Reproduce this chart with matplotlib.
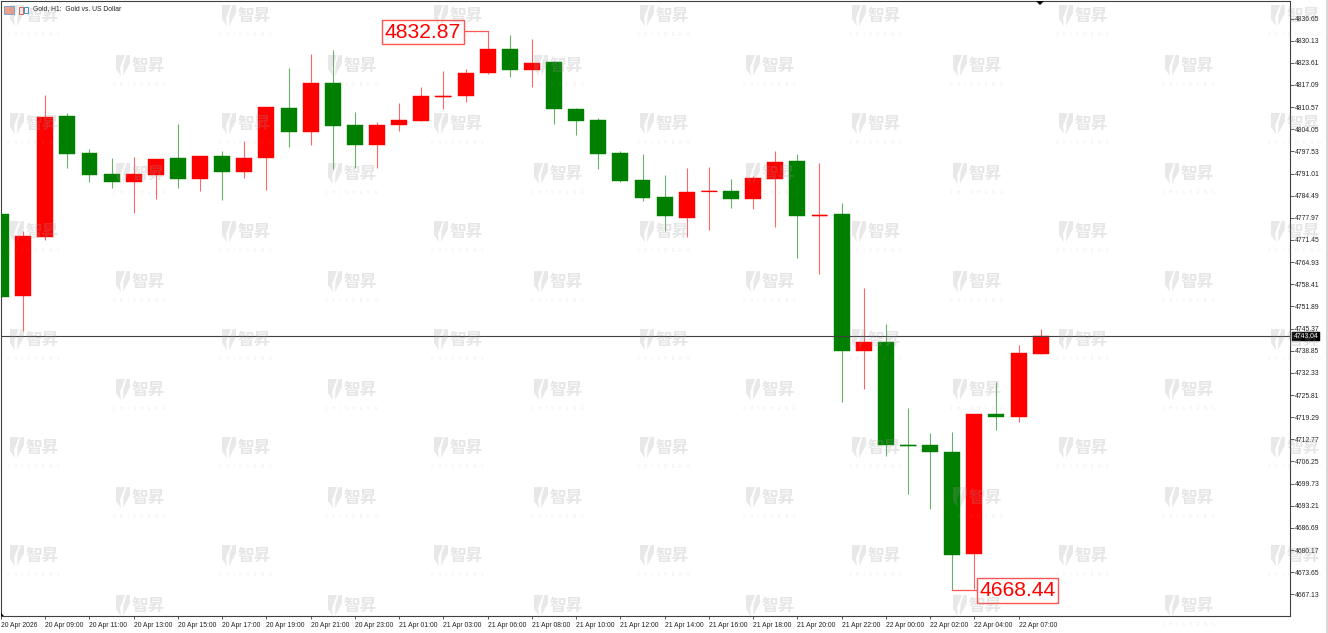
#!/usr/bin/python
import numpy as np
import matplotlib
matplotlib.use('Agg')
import matplotlib.pyplot as plt
from matplotlib.patches import Polygon, Rectangle

# OHLC, one value per hourly candle
opens = [4779.10, 4754.96, 4772.42, 4807.86, 4797.06, 4790.79, 4788.52, 4790.58, 4795.58, 4789.31,
         4796.09, 4791.37, 4795.50, 4810.30, 4803.15, 4817.58, 4805.21, 4799.32, 4805.21, 4806.39,
         4813.60, 4813.93, 4820.52, 4827.59, 4821.49, 4823.94, 4810.10, 4806.77, 4797.06, 4789.11,
         4784.01, 4777.92, 4785.78, 4785.87, 4783.43, 4789.49, 4794.61, 4778.51, 4779.01, 4738.85,
         4741.42, 4711.18, 4711.00, 4709.12, 4679.00, 4720.13, 4719.34, 4737.88]
closes = [4754.75, 4772.62, 4807.66, 4796.85, 4790.58, 4788.52, 4790.79, 4795.20, 4789.31, 4796.09,
          4791.37, 4795.58, 4810.51, 4803.15, 4817.58, 4805.01, 4799.32, 4805.39, 4806.68, 4813.93,
          4813.93, 4820.61, 4827.59, 4821.49, 4823.55, 4809.92, 4806.57, 4796.85, 4788.90, 4783.81,
          4778.51, 4785.66, 4785.78, 4783.43, 4789.70, 4794.41, 4778.51, 4778.89, 4738.68, 4741.50,
          4711.18, 4710.90, 4708.94, 4678.80, 4720.13, 4719.42, 4738.09, 4743.04]
highs = [4779.10, 4774.10, 4814.13, 4808.83, 4798.23, 4795.58, 4795.88, 4795.20, 4805.59, 4796.09,
         4797.65, 4800.68, 4810.69, 4822.08, 4826.20, 4827.38, 4809.04, 4806.18, 4811.87, 4816.40,
         4821.29, 4821.79, 4832.87, 4831.71, 4830.62, 4824.23, 4810.30, 4807.36, 4797.65, 4796.85,
         4790.58, 4792.64, 4792.85, 4789.31, 4790.29, 4797.65, 4796.85, 4794.20, 4782.34, 4757.31,
         4746.63, 4721.98, 4714.62, 4715.01, 4720.13, 4729.55, 4740.44, 4745.33]
lows = [4754.75, 4744.74, 4771.44, 4792.73, 4788.52, 4786.84, 4779.48, 4783.51, 4786.66, 4785.87,
        4783.22, 4789.79, 4786.25, 4798.91, 4799.50, 4792.43, 4792.73, 4792.64, 4803.62, 4806.39,
        4810.10, 4811.98, 4820.23, 4819.43, 4816.58, 4805.68, 4802.36, 4792.35, 4788.52, 4783.01,
        4774.18, 4772.42, 4774.39, 4780.95, 4780.57, 4775.27, 4766.23, 4761.43, 4723.66, 4727.49,
        4707.94, 4696.75, 4692.25, 4668.44, 4668.79, 4715.51, 4717.95, 4737.88]

price_ticks = [4836.65, 4830.13, 4823.61, 4817.09, 4810.57, 4804.05, 4797.53, 4791.01, 4784.49,
               4777.97, 4771.45, 4764.93, 4758.41, 4751.89, 4745.37, 4738.85, 4732.33, 4725.81,
               4719.29, 4712.77, 4706.25, 4699.73, 4693.21, 4686.69, 4680.17, 4673.65, 4667.13]
time_labels = ['20 Apr 2026', '20 Apr 09:00', '20 Apr 11:00', '20 Apr 13:00', '20 Apr 15:00',
               '20 Apr 17:00', '20 Apr 19:00', '20 Apr 21:00', '20 Apr 23:00', '21 Apr 01:00',
               '21 Apr 03:00', '21 Apr 06:00', '21 Apr 08:00', '21 Apr 10:00', '21 Apr 12:00',
               '21 Apr 14:00', '21 Apr 16:00', '21 Apr 18:00', '21 Apr 20:00', '21 Apr 22:00',
               '22 Apr 00:00', '22 Apr 02:00', '22 Apr 04:00', '22 Apr 07:00']
last_price = 4743.04
max_idx, max_price = 22, 4832.87
min_idx, min_price = 43, 4668.44

W, H = 1328, 633
UP = '#ff0000'
DOWN = '#007f00'
FRAME = '#404040'
FONT = 'Liberation Sans'


def fx(px):
    return px / W


def fy(py):
    return 1 - py / H


fig = plt.figure(figsize=(W / 100, H / 100), dpi=100, facecolor='white')
ax = fig.add_axes([fx(1), fy(616), fx(1289), fy(1) - fy(616)])
ax.set_xlim(0.018, 58.27)
ax.set_ylim(4660.75, 4841.81)

idx = np.arange(len(opens))
o = np.array(opens)
c = np.array(closes)
colors = np.where(c >= o, UP, DOWN)

ax.vlines(idx, lows, highs, colors=colors, linewidth=0.8, alpha=0.6, zorder=2)
ax.bar(idx, np.abs(c - o), bottom=np.minimum(o, c), width=0.72, color=colors,
       edgecolor=colors, linewidth=0.3, zorder=3)
thin = np.abs(c - o) < 0.5
ax.hlines((o + c)[thin] / 2, idx[thin] - 0.36, idx[thin] + 0.36, colors=colors[thin],
          linewidth=0.9, zorder=3)

ax.axhline(last_price, color=FRAME, linewidth=0.8, zorder=4)

for s in ax.spines.values():
    s.set_color(FRAME)
    s.set_linewidth(0.8)

ax.yaxis.tick_right()
ax.set_yticks(price_ticks)
ax.set_yticklabels(['%.2f' % p for p in price_ticks], fontname=FONT, fontsize=4.9, color='#222222')
ax.tick_params(axis='y', length=3, width=0.6, color=FRAME, pad=0.2)
ax.set_xticks(idx[::2])
ax.set_xticklabels(time_labels, fontname=FONT, fontsize=4.9, color='#222222', ha='left')
ax.tick_params(axis='x', length=2.5, width=0.6, color=FRAME, pad=1.5)

# last price tag on the scale
ax.annotate('%.2f' % last_price, xy=(1.0, last_price), xycoords=('axes fraction', 'data'),
            xytext=(2.5, 0), textcoords='offset points', va='center', ha='left', fontname=FONT,
            fontsize=4.9, color='white', annotation_clip=False, zorder=6,
            bbox=dict(boxstyle='square,pad=0.2', fc='black', ec='black', lw=0.3))

# max / min call-outs
LINE = '#ff5555'
ax.plot([max_idx, max_idx, max_idx - 1.03], [highs[max_idx], max_price, max_price],
        color=LINE, linewidth=0.9, zorder=2)
ax.plot([min_idx, min_idx + 1.06], [min_price, min_price], color=LINE, linewidth=0.9, zorder=2)
box = dict(boxstyle='square,pad=0.13', fc='white', ec=LINE, lw=1.0)
fig.text(fx(423), fy(32), '%.2f' % max_price, ha='center', va='center', fontname=FONT,
         fontsize=15.2, color=UP, bbox=box, zorder=8)
fig.text(fx(1017.5), fy(590.5), '%.2f' % min_price, ha='center', va='center', fontname=FONT,
         fontsize=15.2, color=UP, bbox=box, zorder=8)

# chart header
fig.text(fx(33), fy(8.8), 'Gold, H1:  Gold vs. US Dollar', ha='left', va='center', fontname=FONT,
         fontsize=4.9, color='#222222', zorder=8)
fig.add_artist(Rectangle((fx(4), fy(14)), 10 / W, 8 / H, transform=fig.transFigure, fc='#f2a08c',
                         ec='#7aa7d0', lw=0.7, zorder=8))
fig.add_artist(Rectangle((fx(18.5), fy(14)), 4 / W, 7 / H, transform=fig.transFigure, fc='white',
                         ec='#e2574c', lw=0.7, zorder=8))
fig.add_artist(Rectangle((fx(24), fy(13)), 4 / W, 6 / H, transform=fig.transFigure, fc='white',
                         ec='#3d8ed0', lw=0.7, zorder=8))

# small scroll markers on the frame
fig.add_artist(Polygon([(fx(1036), fy(1)), (fx(1044), fy(1)), (fx(1040), fy(5))],
                       transform=fig.transFigure, fc='black', ec='none', zorder=8))
fig.add_artist(Polygon([(fx(1), fy(616)), (fx(1), fy(613)), (fx(4), fy(616))],
                       transform=fig.transFigure, fc='black', ec='none', zorder=8))
fig.add_artist(Rectangle((fx(1326), 0), 2 / W, 1, transform=fig.transFigure, fc='#d8d8d8',
                         ec='none', zorder=8))


def watermark(x, y):
    wm = dict(fc='#9a9a9a', ec='none', alpha=0.22, transform=fig.transFigure, zorder=9)
    left = [(x, y), (x + 9, y), (x + 4, y + 13), (x + 5, y + 21), (x, y + 14)]
    right = [(x + 10.5, y), (x + 14, y), (x + 14, y + 8), (x + 7, y + 21), (x + 7.5, y + 10)]
    for pts in (left, right):
        fig.add_artist(Polygon([(fx(a), fy(b)) for a, b in pts], **wm))
    fig.text(fx(x + 32.5), fy(y + 11), '智昇', ha='center', va='center', color='#9a9a9a', alpha=0.24,
             family=['Noto Sans CJK SC', 'DejaVu Sans'], weight='bold', fontsize=12, zorder=9)
    fig.text(fx(x + 23.5), fy(y + 29), 'Z   H   I   S   H   E   N   G', ha='center', va='center',
             color='#9a9a9a', alpha=0.16, fontname=FONT, fontsize=3.4, zorder=9)


wm_cols = [10, 116, 222, 328, 434, 534, 640, 746, 852, 953, 1059, 1165, 1271]
for n, col in enumerate(wm_cols):
    rows = [5, 113, 221, 329, 437, 545] if n % 2 == 0 else [55, 163, 271, 379, 487, 595]
    for row in rows:
        watermark(col, row)

plt.savefig('out.png', dpi=100)
